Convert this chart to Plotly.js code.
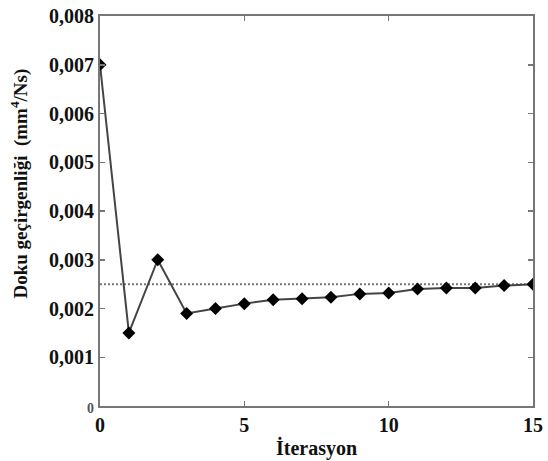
<!DOCTYPE html>
<html>
<head>
<meta charset="utf-8">
<script src="https://cdn.plot.ly/plotly-3.0.1.min.js"></script>
<style>html,body{margin:0;padding:0;background:#fff;}#chart{width:548px;height:461px;}</style>
</head>
<body>
<div id="chart"></div>
<script>
const iterations = [0,1,2,3,4,5,6,7,8,9,10,11,12,13,14,15];
const permeability = [0.0070,0.0015,0.0030,0.0019,0.0020,0.0021,0.00218,0.0022,0.00223,0.0023,0.00232,0.0024,0.00242,0.00242,0.00247,0.0025];
const referenceX = [0,15];
const referenceY = [0.0025,0.0025];
const yTickVals = [0,0.001,0.002,0.003,0.004,0.005,0.006,0.007,0.008];
const yTickText = ["<span style='font-size:14px;fill:#555'>0</span>","0,001","0,002","0,003","0,004","0,005","0,006","0,007","0,008"];
const xTickVals = [0,5,10,15];
const xTickText = ["0","5","10","15"];

const font = 'Liberation Serif, Times New Roman, serif';
const traces = [
  {x: referenceX, y: referenceY, mode:'lines', line:{color:'#777', width:2, dash:'2px,2px'}, hoverinfo:'skip'},
  {x: iterations, y: permeability, mode:'lines+markers',
   line:{color:'#444', width:2},
   marker:{symbol:'diamond', size:10, color:'#000'}}
];
const axisCommon = {showgrid:false, zeroline:false, showline:true, linecolor:'#777', linewidth:2, mirror:'ticks', ticks:'inside', ticklen:5, tickcolor:'#777', tickwidth:1.5};
const layout = {
  width:548, height:461,
  margin:{l:100, r:15, t:16, b:55},
  paper_bgcolor:'#fff', plot_bgcolor:'#fff',
  showlegend:false,
  font:{family:font, color:'#111'},
  xaxis: Object.assign({}, axisCommon, {range:[0,15], tickvals:xTickVals, ticktext:xTickText, tickfont:{family:font, size:20, weight:'bold', color:'#111'},
    title:{text:'<b>İterasyon</b>', font:{family:font, size:20, color:'#111'}, standoff:6}}),
  yaxis: Object.assign({}, axisCommon, {range:[0,0.008], tickvals:yTickVals, ticktext:yTickText, tickfont:{family:font, size:20, weight:'bold', color:'#111'}}),
  annotations:[
    {text:'<b>Doku geçirgenliği  (mm<sup>4</sup>/Ns)</b>', xref:'paper', yref:'paper', x:-0.185, y:0.57, xanchor:'center', yanchor:'middle', textangle:-90, showarrow:false, font:{family:font, size:19, color:'#111'}}
  ]
};
Plotly.newPlot('chart', traces, layout, {displayModeBar:false, staticPlot:true});
</script>
</body>
</html>
